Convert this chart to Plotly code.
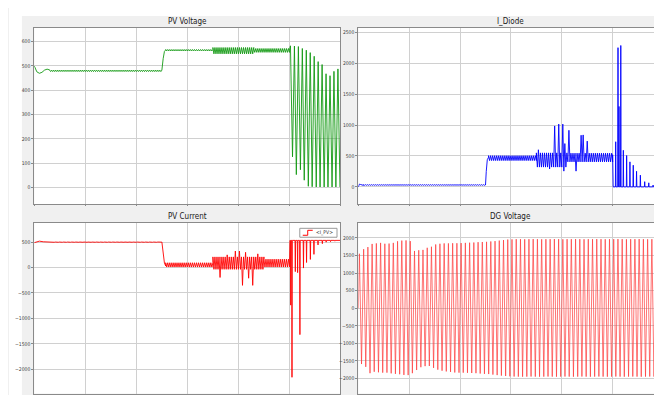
import plotly.graph_objects as go

# ================= data =================
T_END = 1.2
HALF = 0.004          # half-period of the converter ripple drawn in bands (s)
PULSE_W = 0.0012      # half-width of the isolated pulses (s)

# ---- PV Voltage (V) ----
pv_v_start_t = [0.0, 0.005, 0.01, 0.02, 0.03, 0.04, 0.05, 0.06]
pv_v_start_v = [500, 488, 476, 470, 474, 483, 487, 484]
pv_v_step_t = [0.500, 0.505, 0.510, 0.515]
pv_v_step_v = [480, 530, 560, 566]
pv_v_bands = [(0.06, 0.50, 483, 477), (0.515, 0.70, 568, 562),
              (0.70, 0.86, 576, 550), (0.86, 1.00, 572, 556)]
pv_v_fault_t = [1.000, 1.004, 1.012, 1.0195, 1.027, 1.035, 1.043, 1.0505, 1.058,
                1.066, 1.074, 1.0815, 1.089, 1.097, 1.105, 1.1125, 1.120, 1.128,
                1.136, 1.1435, 1.151, 1.159, 1.167, 1.1745, 1.182, 1.190, 1.198]
pv_v_fault_v = [565, 583, 126, 582, 53, 580, 73, 572, 30, 565, 5, 555, 3, 540, 2,
                518, 2, 506, 2, 468, 2, 460, 2, 478, 2, 488, 2]

# ---- I_Diode (A) ----
id_start_t = [0.0, 0.004, 0.008, 0.014, 0.02]
id_start_v = [0, 45, 40, 27, 25]
id_rise_t = [0.500, 0.503, 0.507, 0.512]
id_rise_v = [30, 250, 440, 480]
id_bands = [(0.02, 0.50, 37, 26), (0.512, 0.70, 505, 425),
            (0.70, 0.82, 550, 320), (0.82, 1.00, 545, 405)]
id_spike_t = [0.71, 0.773, 0.787, 0.80, 0.815, 0.828, 0.873, 0.885, 0.897]
id_spike_v = [600, 985, 1015, 1015, 700, 915, 835, 840, 740]
id_dip_t = [0.75, 0.81, 0.856]
id_dip_v = [290, 255, 255]
id_drop_t = [1.000, 1.002]
id_drop_v = [520, 0]
id_pulse_t = [1.012, 1.021, 1.025, 1.032, 1.042, 1.055, 1.068, 1.081, 1.094,
              1.109, 1.126, 1.142, 1.159, 1.177, 1.194]
id_pulse_v = [730, 2250, 1300, 2285, 592, 508, 405, 351, 253, 190, 85, 66, 30, 35, 10]
ID_BASE = 0

# ---- PV Current (A) ----
ipv_start_t = [0.0, 0.01, 0.02, 0.035, 0.05]
ipv_start_v = [490, 512, 520, 508, 500]
ipv_drop_t = [0.500, 0.505, 0.510, 0.515]
ipv_drop_v = [500, 300, 90, 30]
ipv_bands = [(0.05, 0.50, 502, 498), (0.515, 0.70, 95, 10),
             (0.70, 0.90, 210, -35), (0.90, 1.00, 165, 10)]
ipv_spike_t = [0.76, 0.79, 0.805, 0.83, 0.88]
ipv_spike_v = [250, 325, 325, 300, 270]
ipv_dip_t = [0.727, 0.815, 0.844, 0.86]
ipv_dip_v = [-195, -350, -210, -350]
ipv_rise_t = [1.000, 1.002]
ipv_rise_v = [60, 535]
ipv_pulse_t = [1.005, 1.010, 1.023, 1.032, 1.041, 1.055, 1.067, 1.082, 1.096,
               1.112, 1.129, 1.144, 1.161, 1.178]
ipv_pulse_v = [-740, -2160, -80, -100, -1320, -10, 100, 160, 260, 445, 470, 500, 510, 520]
IPV_BASE = 535
IPV_LEGEND = "<I_PV>"

# ---- DG Voltage (V): positive / negative peak of every 60 Hz cycle ----
DG_PERIOD = 1 / 60
dg_pos_peaks = [1550, 1680, 1740, 1830, 1845, 1860, 1835, 1840, 1860, 1905, 1925, 1930,
                1910, 1630, 1650, 1660, 1720, 1750, 1815, 1835, 1845, 1845, 1850, 1850,
                1855, 1860, 1865, 1870, 1880, 1885, 1890, 1900, 1910, 1925, 1940, 1955,
                1960, 1965, 1965, 1962, 1965, 1968, 1965, 1962, 1965, 1965, 1968, 1965,
                1962, 1965, 1965, 1968, 1965, 1962, 1965, 1965, 1968, 1965, 1962, 1965,
                1965, 1968, 1965, 1962, 1965, 1965, 1968, 1965, 1962, 1965, 1965, 1960]
dg_neg_peaks = [-1590, -1670, -1850, -1810, -1825, -1835, -1835, -1855, -1870, -1880, -1900, -1905,
                -1850, -1760, -1680, -1650, -1645, -1700, -1750, -1780, -1800, -1815, -1830, -1835,
                -1835, -1840, -1845, -1850, -1860, -1870, -1875, -1890, -1905, -1920, -1930, -1940,
                -1945, -1948, -1950, -1948, -1945, -1948, -1950, -1948, -1945, -1948, -1950, -1948,
                -1945, -1948, -1950, -1948, -1945, -1948, -1950, -1948, -1945, -1948, -1950, -1948,
                -1945, -1948, -1950, -1948, -1945, -1948, -1950, -1948, -1945, -1948, -1950, -1945]

# axis tick settings
X_RANGE = [0, 1.2]
Y_RANGES = {"pv_v": [-70, 657], "i_d": [-284, 2570], "i_pv": [-2480, 880], "dg": [-2430, 2430]}
Y_DTICK = {"pv_v": 100, "i_d": 500, "i_pv": 500, "dg": 500}


# ================= helpers that assemble the sampled traces =================
def band(t0, t1, hi, lo, ups=(), dips=()):
    n = max(1, int(round((t1 - t0) / HALF)))
    ts = [t0 + i * (t1 - t0) / n for i in range(n + 1)]
    vs = [hi if i % 2 == 0 else lo for i in range(n + 1)]
    for (st, sv) in ups:
        if t0 <= st <= t1:
            idx = min(range(0, n + 1, 2), key=lambda i: abs(ts[i] - st))
            vs[idx] = sv
    for (st, sv) in dips:
        if t0 <= st <= t1:
            idx = min(range(1, n + 1, 2), key=lambda i: abs(ts[i] - st))
            vs[idx] = sv
    return list(zip(ts, vs))


def pulses(ts, vs, base):
    pts = []
    for t, v in zip(ts, vs):
        pts += [(t - PULSE_W, base), (t, v), (t + PULSE_W, base)]
    return pts


def assemble(*segments):
    pts = []
    for seg in segments:
        pts += seg
    pts.sort(key=lambda p: p[0])
    return [p[0] for p in pts], [p[1] for p in pts]


pv_v_t, pv_v = assemble(list(zip(pv_v_start_t, pv_v_start_v)),
                        list(zip(pv_v_step_t, pv_v_step_v)),
                        *[band(*b) for b in pv_v_bands],
                        list(zip(pv_v_fault_t, pv_v_fault_v)))

id_ups = list(zip(id_spike_t, id_spike_v))
id_dps = list(zip(id_dip_t, id_dip_v))
i_d_t, i_d = assemble(list(zip(id_start_t, id_start_v)),
                      list(zip(id_rise_t, id_rise_v)),
                      *[band(*b, ups=id_ups, dips=id_dps) for b in id_bands],
                      list(zip(id_drop_t, id_drop_v)),
                      pulses(id_pulse_t, id_pulse_v, ID_BASE),
                      [(T_END, ID_BASE)])

ipv_ups = list(zip(ipv_spike_t, ipv_spike_v))
ipv_dps = list(zip(ipv_dip_t, ipv_dip_v))
i_pv_t, i_pv = assemble(list(zip(ipv_start_t, ipv_start_v)),
                        list(zip(ipv_drop_t, ipv_drop_v)),
                        *[band(*b, ups=ipv_ups, dips=ipv_dps) for b in ipv_bands],
                        list(zip(ipv_rise_t, ipv_rise_v)),
                        pulses(ipv_pulse_t, ipv_pulse_v, IPV_BASE),
                        [(T_END, IPV_BASE)])

dg_t, dg = [0.0], [0.0]
for k, (hi, lo) in enumerate(zip(dg_pos_peaks, dg_neg_peaks)):
    dg_t += [(k + 0.25) * DG_PERIOD, (k + 0.75) * DG_PERIOD]
    dg += [hi, lo]

# ================= figure =================
W, H = 662, 395
XL = [25.5 / W, 334 / W]
XR = [352 / W, 659.5 / W]
YT = [1 - 198 / H, 1 - 20 / H]
YB = [1 - 388.5 / H, 1 - 216.5 / H]

fig = go.Figure()
fig.add_trace(go.Scatter(x=pv_v_t, y=pv_v, mode="lines", line=dict(color="#139a13", width=0.9),
                         xaxis="x", yaxis="y", showlegend=False, name="PV Voltage"))
fig.add_trace(go.Scatter(x=i_d_t, y=i_d, mode="lines", line=dict(color="#0000ff", width=0.9),
                         xaxis="x2", yaxis="y2", showlegend=False, name="I_Diode"))
fig.add_trace(go.Scatter(x=i_pv_t, y=i_pv, mode="lines", line=dict(color="#ff0000", width=0.9),
                         xaxis="x3", yaxis="y3", showlegend=False, name=IPV_LEGEND))
fig.add_trace(go.Scatter(x=dg_t, y=dg, mode="lines", line=dict(color="#ff3a3a", width=0.7),
                         xaxis="x4", yaxis="y4", showlegend=False, name="DG Voltage"))

tickfont = dict(size=5, color="#404040",
                family="Liberation Sans Narrow, DejaVu Sans Condensed, Arial Narrow, sans-serif")
grid = "#d0d0d0"
linec = "#8a8a8a"


def xax(domain, anchor, labels):
    return dict(domain=domain, anchor=anchor, range=X_RANGE, dtick=0.2, tick0=0,
                showgrid=True, gridcolor=grid, gridwidth=1, zeroline=False,
                showline=True, linecolor=linec, linewidth=1, mirror=True,
                ticks="outside", ticklen=1, tickcolor=linec, showticklabels=labels,
                tickfont=tickfont)


def yax(domain, anchor, key):
    return dict(domain=domain, anchor=anchor, range=Y_RANGES[key], dtick=Y_DTICK[key], tick0=0,
                showgrid=True, gridcolor=grid, gridwidth=1, zeroline=False,
                showline=True, linecolor=linec, linewidth=1, mirror=True,
                ticks="outside", ticklen=2, tickcolor=linec, tickfont=tickfont,
                exponentformat="none", separatethousands=False)


title_font = dict(size=8, color="#202020",
                  family="Liberation Sans Narrow, DejaVu Sans Condensed, Arial Narrow, sans-serif")
titles = [("PV Voltage", (XL[0] + XL[1]) / 2, 1 - 14 / H),
          ("I_Diode", (XR[0] + XR[1]) / 2, 1 - 14 / H),
          ("PV Current", (XL[0] + XL[1]) / 2, 1 - 210.5 / H),
          ("DG Voltage", (XR[0] + XR[1]) / 2, 1 - 210.5 / H)]

annotations = [dict(text=t, x=x, y=y, xref="paper", yref="paper", showarrow=False,
                    xanchor="center", yanchor="middle", font=title_font) for t, x, y in titles]

# small scope-style legend box in the PV Current panel (position in paper fraction)
LG_X0, LG_X1 = 293 / W, 330.5 / W
LG_Y0, LG_Y1 = 1 - 231 / H, 1 - 222 / H
annotations.append(dict(text=IPV_LEGEND.replace("<", "&lt;").replace(">", "&gt;"),
                        x=LG_X1 - 2 / W, y=(LG_Y0 + LG_Y1) / 2, xref="paper", yref="paper",
                        showarrow=False, xanchor="right", yanchor="middle",
                        font=dict(size=5, color="#303030",
                                  family="Liberation Sans Narrow, DejaVu Sans Condensed, sans-serif")))

shapes = [
    dict(type="rect", xref="paper", yref="paper", x0=0, x1=13 / W, y0=0, y1=1,
         fillcolor="white", line=dict(width=0), layer="below"),
    dict(type="rect", xref="paper", yref="paper", x0=0, x1=1, y0=1 - 8 / H, y1=1,
         fillcolor="white", line=dict(width=0), layer="below"),
    dict(type="rect", xref="paper", yref="paper", x0=LG_X0, x1=LG_X1, y0=LG_Y0, y1=LG_Y1,
         fillcolor="white", line=dict(color="#9a9a9a", width=1), layer="above"),
    dict(type="path", xref="paper", yref="paper", layer="above",
         path=(f"M {LG_X0 + 3 / W} {LG_Y0 + 2 / H} L {LG_X0 + 8 / W} {LG_Y0 + 2 / H} "
               f"L {LG_X0 + 8 / W} {LG_Y1 - 2 / H} L {LG_X0 + 13 / W} {LG_Y1 - 2 / H}"),
         line=dict(color="#ff0000", width=1)),
]

fig.update_layout(
    width=W, height=H, autosize=False,
    margin=dict(l=0, r=0, t=0, b=0, pad=0),
    paper_bgcolor="#f0f0f0", plot_bgcolor="#ffffff",
    xaxis=xax(XL, "y", False), yaxis=yax(YT, "x", "pv_v"),
    xaxis2=xax(XR, "y2", False), yaxis2=yax(YT, "x2", "i_d"),
    xaxis3=xax(XL, "y3", True), yaxis3=yax(YB, "x3", "i_pv"),
    xaxis4=xax(XR, "y4", True), yaxis4=yax(YB, "x4", "dg"),
    annotations=annotations,
    shapes=shapes,
    showlegend=False,
)

fig.write_html("out.html")
